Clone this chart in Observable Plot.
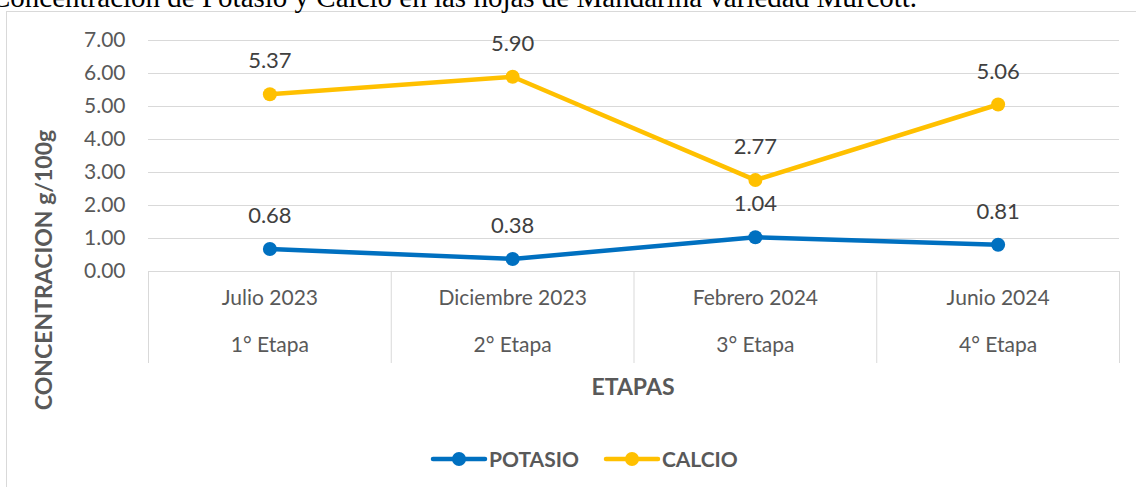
<!DOCTYPE html>
<html><head><meta charset="utf-8">
<script src="https://cdn.jsdelivr.net/npm/d3@7"></script>
<script src="https://cdn.jsdelivr.net/npm/@observablehq/plot@0.6"></script>
<style>
html,body{margin:0;padding:0;background:#fff;overflow:hidden;width:1136px;height:487px;}
#wrap{position:relative;width:1136px;height:487px;overflow:hidden;}
#title{position:absolute;left:-9px;top:-17px;line-height:28px;font-family:"Liberation Serif","Times New Roman",serif;font-size:29px;color:#000;white-space:nowrap;}
#box{position:absolute;left:6px;top:11px;width:1200px;height:600px;border:1px solid #d9d9d9;box-sizing:border-box;}
#chart{position:absolute;left:0;top:0;}
#ytitle{position:absolute;left:43px;top:270px;transform:translate(-50%,-50%) rotate(-90deg);font-family:Lato,sans-serif;font-weight:bold;font-size:23px;color:#595959;white-space:nowrap;}
#xtitle{position:absolute;left:633px;top:386px;transform:translate(-50%,-50%);font-family:Lato,sans-serif;font-weight:bold;font-size:23px;color:#595959;}
#legend{position:absolute;left:430px;top:446px;display:flex;align-items:center;font-family:Lato,sans-serif;font-weight:bold;font-size:21px;color:#595959;}
#legend .item{display:flex;align-items:center;margin-right:24px;}
</style></head>
<body><div id="wrap">
<div id="box"></div>
<div id="title">Concentración de Potasio y Calcio en las hojas de Mandarina variedad Murcott.</div>
<div id="chart"></div>
<div id="ytitle">CONCENTRACION g/100g</div>
<div id="xtitle">ETAPAS</div>
<div id="legend"></div>
</div>
<script>
const months = ["Julio 2023","Diciembre 2023","Febrero 2024","Junio 2024"];
const etapas = ["1° Etapa","2° Etapa","3° Etapa","4° Etapa"];
const potasio = [0.68,0.38,1.04,0.81];
const calcio = [5.37,5.90,2.77,5.06];
const yTicks = [0,1,2,3,4,5,6,7];
const seriesNames = ["POTASIO","CALCIO"];
const seriesColors = ["#0070C0","#FFC000"];

const rows = (vals, s) => vals.map((v,i)=>({i, x:i+0.5, v, s}));
const pot = rows(potasio,"POTASIO");
const cal = rows(calcio,"CALCIO");
const font = "Lato, sans-serif";

const chart = Plot.plot({
  width:1136, height:487,
  marginLeft:148, marginRight:17, marginTop:40, marginBottom:216,
  x:{domain:[0,4], axis:null},
  y:{domain:[0,7], axis:null},
  style:{fontFamily:font, background:"transparent", overflow:"visible"},
  marks:[
    Plot.ruleY(yTicks,{y:d=>d, stroke:"#d9d9d9", strokeWidth:1}),
    Plot.ruleX(d3.range(months.length+1),{x:d=>d, insetTop:231, insetBottom:-92, stroke:"#d9d9d9", strokeWidth:1}),
    Plot.text(yTicks,{y:d=>d, frameAnchor:"left", dx:-23, textAnchor:"end", text:d=>d.toFixed(2), fontSize:21, fill:"#595959"}),
    Plot.text(months,{x:(d,i)=>i+0.5, frameAnchor:"bottom", dy:33, text:d=>d, fontSize:21, fill:"#595959"}),
    Plot.text(etapas,{x:(d,i)=>i+0.5, frameAnchor:"bottom", dy:80, text:d=>d, fontSize:21, fill:"#595959"}),
    Plot.line(pot,{x:"x", y:"v", stroke:seriesColors[0], strokeWidth:4.5, strokeLinecap:"round"}),
    Plot.line(cal,{x:"x", y:"v", stroke:seriesColors[1], strokeWidth:4.5, strokeLinecap:"round"}),
    Plot.dot(pot,{x:"x", y:"v", r:7, fill:seriesColors[0]}),
    Plot.dot(cal,{x:"x", y:"v", r:7, fill:seriesColors[1]}),
    Plot.text(pot,{x:"x", y:"v", dy:-33, text:d=>d.v.toFixed(2), fontSize:22, fill:"#404040"}),
    Plot.text(cal,{x:"x", y:"v", dy:-33, text:d=>d.v.toFixed(2), fontSize:22, fill:"#404040"})
  ]
});
document.getElementById("chart").appendChild(chart);

const leg = document.getElementById("legend");
seriesNames.forEach((n,k)=>{
  const it = document.createElement("div"); it.className="item";
  it.innerHTML = `<svg width="58" height="22" style="margin-right:1px"><line x1="3" x2="55" y1="11" y2="11" stroke="${seriesColors[k]}" stroke-width="4.5" stroke-linecap="round"/><circle cx="29" cy="11" r="7" fill="${seriesColors[k]}"/></svg><span>${n}</span>`;
  leg.appendChild(it);
});
</script>
</body></html>
